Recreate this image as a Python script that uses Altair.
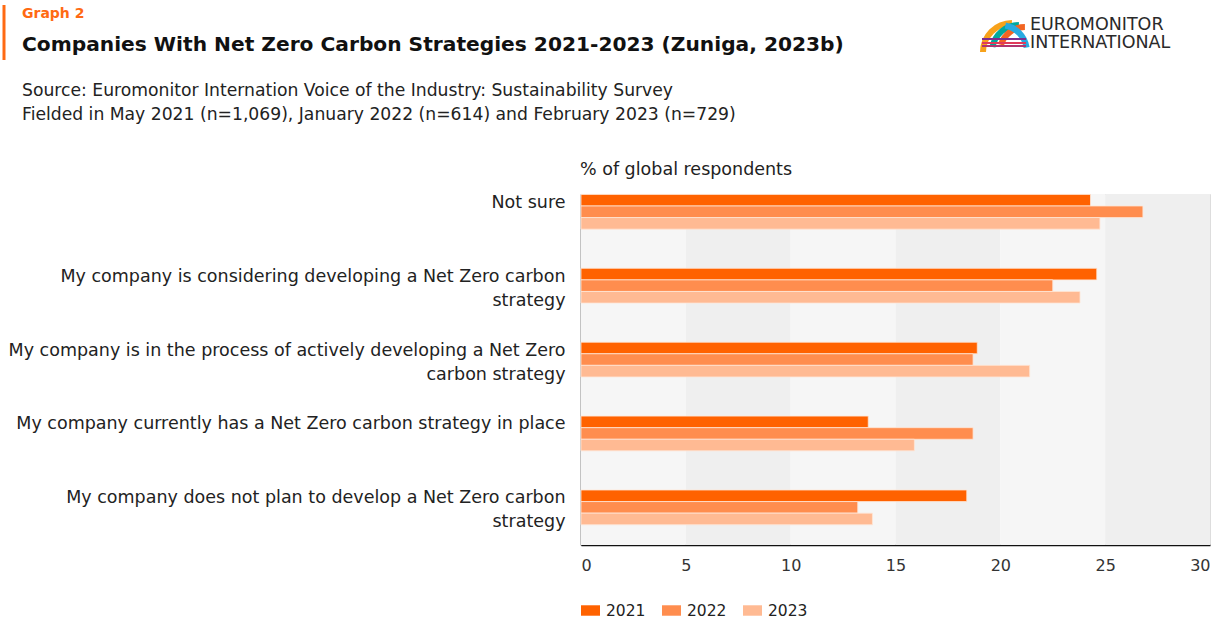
import altair as alt
import pandas as pd

# ---- data ----
categories = [
    "Not sure",
    "My company is considering developing a Net Zero carbon\nstrategy",
    "My company is in the process of actively developing a Net Zero\ncarbon strategy",
    "My company currently has a Net Zero carbon strategy in place",
    "My company does not plan to develop a Net Zero carbon\nstrategy",
]
years = ["2021", "2022", "2023"]
values_2021 = [24.3, 24.6, 18.9, 13.7, 18.4]
values_2022 = [26.8, 22.5, 18.7, 18.7, 13.2]
values_2023 = [24.75, 23.8, 21.4, 15.9, 13.9]
year_colors = ["#ff6200", "#ff8d4e", "#ffba93"]
band_starts = [0, 5, 10, 15, 20, 25]
x_ticks = [0, 5, 10, 15, 20, 25, 30]

rows = []
for yr, vals in zip(years, [values_2021, values_2022, values_2023]):
    for c, v in zip(categories, vals):
        rows.append({"label": c, "year": yr, "value": v})
df = pd.DataFrame(rows)
bands = pd.DataFrame({"start": band_starts, "end": [s + 5 for s in band_starts]})

FONT = "DejaVu Sans"
W, H = 629, 351

x_scale = alt.Scale(domain=[0, 30], nice=False, zero=True)
x_axis = alt.Axis(
    values=x_ticks, ticks=False, grid=False, domainColor="#111", domainWidth=1.5,
    labelFontSize=16, labelColor="#333", labelPadding=12, labelFlush=True, title=None,
    labelFont=FONT,
)

band_layer = alt.Chart(bands).mark_rect().encode(
    x=alt.X("start:Q", scale=x_scale, axis=x_axis),
    x2="end:Q",
    fill=alt.condition("datum.start % 10 == 0", alt.value("#f6f6f6"), alt.value("#efefef")),
)

bar_layer = alt.Chart(df).mark_bar(stroke="#ffe6d6", strokeWidth=0.8).encode(
    x=alt.X("value:Q", scale=x_scale, axis=x_axis),
    y=alt.Y(
        "label:N", sort=categories,
        scale=alt.Scale(paddingInner=0.53, paddingOuter=0.14, align=0.02),
        axis=alt.Axis(
            ticks=False, domainColor="#111", domainWidth=1.5, labelFontSize=17.5,
            labelColor="#222", labelBaseline="top", labelOffset=-18, labelPadding=16,
            labelLineHeight=24, labelLimit=0, title=None, labelFont=FONT,
            labelExpr="split(datum.label, '\\n')",
        ),
    ),
    yOffset=alt.YOffset("year:N", sort=years),
    color=alt.Color(
        "year:N", sort=years,
        scale=alt.Scale(domain=years, range=year_colors),
        legend=alt.Legend(
            title=None, orient="none", legendX=0, legendY=407, direction="horizontal",
            symbolType="M-1,-0.55H1V0.55H-1Z", symbolSize=361, symbolStrokeWidth=0,
            labelFontSize=15.5, labelColor="#222", labelFont=FONT, columnPadding=16,
            labelOffset=6, symbolOpacity=1,
        ),
    ),
)

def txt(text, x, y, size, color="#111", weight="normal", align="left", font=FONT):
    return alt.Chart(pd.DataFrame({"t": [text]})).mark_text(
        align=align, baseline="middle", fontSize=size, fontWeight=weight,
        color=color, font=font,
    ).encode(text="t:N", x=alt.value(x), y=alt.value(y))

ox, oy = 581, 194
header = [
    txt("Graph 2", 22 - ox, 14 - oy, 14, color="#ff6a13", weight="bold"),
    txt("Companies With Net Zero Carbon Strategies 2021-2023 (Zuniga, 2023b)", 22 - ox, 45 - oy, 20.2, weight="bold"),
    txt("Source: Euromonitor Internation Voice of the Industry: Sustainability Survey", 22 - ox, 91 - oy, 17.2, color="#222"),
    txt("Fielded in May 2021 (n=1,069), January 2022 (n=614) and February 2023 (n=729)", 22 - ox, 115 - oy, 17.2, color="#222"),
    txt("% of global respondents", 580 - ox, 170 - oy, 17.5, color="#222"),
    txt("EUROMONITOR", 1030 - ox, 25 - oy, 17.5, color="#2a2a2a"),
    txt("INTERNATIONAL", 1030 - ox, 43 - oy, 17.5, color="#2a2a2a"),
]

accent = alt.Chart(pd.DataFrame({"a": [1]})).mark_rule(color="#ff6a13", strokeWidth=3).encode(
    x=alt.value(4 - ox), y=alt.value(5 - oy), y2=alt.value(60 - oy)
)

# simple stand-in for the logo's coloured arches
def arch(cx, cy, r, t1, t2, col):
    return alt.Chart(pd.DataFrame({"a": [1]})).mark_arc(
        theta=t1, theta2=t2, radius=r, radius2=r - 6, color=col
    ).encode(x=alt.value(cx - ox), y=alt.value(cy - oy))

logo = [
    arch(1012, 52, 32, 4.71, 6.28, "#f7a21b"),
    arch(1019, 52, 30, 4.9, 6.28, "#00a99d"),
    arch(1025, 52, 28, 5.0, 6.28, "#f26522"),
    arch(1000, 52, 30, 0.2, 1.4, "#27aae1"),
]
for yy, col in [(39, "#7b2d8e"), (43, "#e03a5a"), (46, "#b0346f")]:
    logo.append(
        alt.Chart(pd.DataFrame({"a": [1]})).mark_rule(strokeWidth=2, color=col).encode(
            x=alt.value(982 - ox), x2=alt.value(1026 - ox), y=alt.value(yy - oy)
        )
    )

chart = alt.layer(band_layer, bar_layer, accent, *logo, *header).properties(
    width=W, height=H,
    autosize=alt.AutoSizeParams(type="none"),
    padding={"left": ox, "top": oy, "right": 1212 - ox - W, "bottom": 623 - oy - H},
).configure_view(stroke=None).configure(background="white")

chart.save("out.html", embed_options={"renderer": "svg", "actions": False})
